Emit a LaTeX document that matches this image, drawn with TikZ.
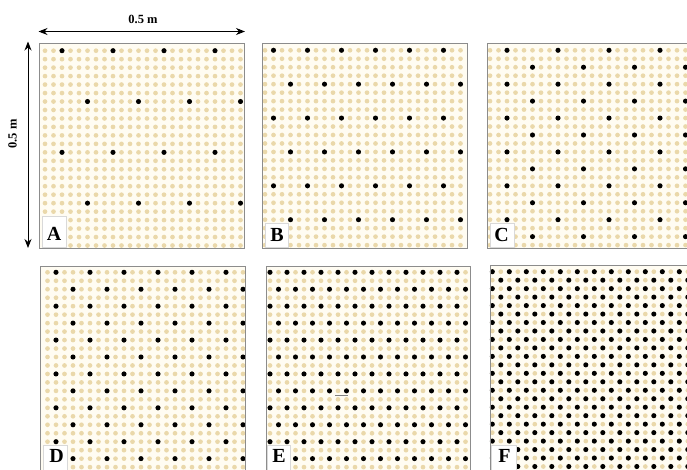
\documentclass[tikz,border=0pt]{standalone}
\usepackage{fontspec}
\setmainfont{Liberation Serif}
\usetikzlibrary{arrows.meta}
\definecolor{tandot}{RGB}{234,216,170}
\definecolor{panelbg}{RGB}{255,252,242}
\definecolor{frame}{RGB}{140,140,140}
% #1 x0, #2 y0, #3 row step, #4 col step, #5 start col (even band), #6 start col (odd band)
\newcommand\dotgrid[6]{%
  \fill[tandot] \foreach \i in {0,...,23}{\foreach \j in {0,...,23}{(#1+\i*8.5,#2+\j*8.47) circle[radius=2.35pt]}};
  \foreach \r in {0,#3,...,23}{%
    \pgfmathtruncatemacro\kk{\r/#3}%
    \pgfmathtruncatemacro\ss{mod(\kk,2)==0 ? #5 : #6}%
    \pgfmathtruncatemacro\sn{\ss+#4}%
    \foreach \c in {\ss,\sn,...,23}{\fill[black] (#1+\c*8.5,#2+\r*8.47) circle[radius=2.55pt];}%
  }%
}
\begin{document}
\begin{tikzpicture}[x=1pt,y=-1pt,
  panelfill/.style={fill=panelbg},
  panelframe/.style={draw=frame,line width=0.8pt},
  labelbox/.style={fill=white,draw=gray!30,line width=0.4pt},
  lbl/.style={font=\fontsize{20}{20}\selectfont\bfseries,inner sep=0pt},
  dimtext/.style={font=\fontsize{12.5}{12.5}\selectfont\bfseries,inner sep=0pt},
  dimarrow/.style={line width=0.9pt,{Stealth[length=9pt,width=7pt]}-{Stealth[length=9pt,width=7pt]}}]
\useasboundingbox (0,0) rectangle (687,470);
\clip (0,0) rectangle (687,470);
\fill[white] (0,0) rectangle (687,470);

% panel backgrounds
\fill[panelfill] (39.5,43.5) rectangle (244,248);
\fill[panelfill] (262.5,43.5) rectangle (467,248);
\fill[panelfill] (487.5,43.5) rectangle (700,248);
\fill[panelfill] (40.5,266.5) rectangle (245.5,480);
\fill[panelfill] (266,266.5) rectangle (470,480);
\fill[panelfill] (490,265) rectangle (700,480);

% dot patterns
\dotgrid{45}{50.7}{6}{6}{2}{5}
\dotgrid{265}{50.3}{4}{4}{1}{3}
\dotgrid{490}{50.3}{2}{6}{2}{5}
\dotgrid{47.5}{272.3}{2}{4}{1}{3}
\dotgrid{270}{272.3}{2}{2}{0}{1}
\dotgrid{492.3}{271.7}{1}{2}{0}{1}

% small artifact line in E
\draw[gray,line width=0.6pt] (335,395.7) -- (348,395.7);

% panel frames
\draw[panelframe] (39.5,43.5) rectangle (244,248);
\draw[panelframe] (262.5,43.5) rectangle (467,248);
\draw[panelframe] (487.5,43.5) rectangle (700,248);
\draw[panelframe] (40.5,266.5) rectangle (245.5,480);
\draw[panelframe] (266,266.5) rectangle (470,480);
\draw[panelframe] (490,265) rectangle (700,480);

% label boxes and letters
\draw[labelbox] (42.5,216) rectangle (66,247.5);
\node[lbl] (la) at (54,234) {A};
\draw[labelbox] (265,223.5) rectangle (288.5,247.5);
\node[lbl] (lb) at (277,235) {B};
\draw[labelbox] (490.5,223.5) rectangle (514,247.5);
\node[lbl] (lc) at (501.5,235) {C};
\draw[labelbox] (43,445) rectangle (67.5,471);
\node[lbl] (ld) at (56.5,456) {D};
\draw[labelbox] (267.5,445) rectangle (290,471);
\node[lbl] (le) at (279,455.5) {E};
\draw[labelbox] (491,445) rectangle (515.7,471);
\node[lbl] (lf) at (504.5,455.5) {F};

% dimension arrows
\coordinate (hl) at (38.5,31.5);
\coordinate (hr) at (245,31.5);
\coordinate (vt) at (28,41.5);
\coordinate (vb) at (28,248);
\draw[dimarrow] (hl) -- (hr);
\draw[dimarrow] (vt) -- (vb);
\node[dimtext] (htext) at (143,19) {0.5 m};
\node[dimtext,rotate=90] (vtext) at (12.5,134) {0.5 m};
\end{tikzpicture}
\end{document}
